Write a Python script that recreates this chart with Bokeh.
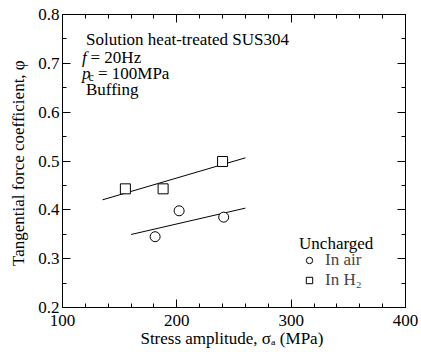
from bokeh.plotting import figure
from bokeh.models import (Range1d, FixedTicker, LinearAxis, Label, Legend, LegendItem)
from bokeh.embed import file_html
from bokeh.resources import INLINE

# ---- data ----
air_x = [181, 202, 241]
air_y = [0.345, 0.398, 0.385]
h2_x = [155, 188, 240]
h2_y = [0.443, 0.443, 0.499]
fit_air_x = [160, 260]
fit_air_y = [0.3495, 0.4035]
fit_h2_x = [135, 260]
fit_h2_y = [0.4205, 0.5065]
x_ticks = [100, 200, 300, 400]
x_minor = [100, 120, 140, 160, 180, 200, 220, 240, 260, 280, 300, 320, 340, 360, 380, 400]
y_ticks = [0.2, 0.3, 0.4, 0.5, 0.6, 0.7, 0.8]
y_minor = [0.2, 0.25, 0.3, 0.35, 0.4, 0.45, 0.5, 0.55, 0.6, 0.65, 0.7, 0.75, 0.8]

FONT = "'Liberation Serif', 'Times New Roman', serif"
FS = "17px"

p = figure(width=421, height=352, output_backend="svg", toolbar_location=None,
           x_range=Range1d(100, 400), y_range=Range1d(0.2, 0.8),
           min_border_left=62, min_border_right=16, min_border_top=14, min_border_bottom=45,
           x_axis_label="Stress amplitude,  σₐ (MPa)",
           y_axis_label="Tangential force coefficient,  φ")
p.grid.visible = False
p.outline_line_color = "black"
p.background_fill_color = "white"
p.border_fill_color = "white"

xt = FixedTicker(ticks=x_ticks, minor_ticks=x_minor)
yt = FixedTicker(ticks=y_ticks, minor_ticks=y_minor)


def style_axis(ax, labels=True):
    ax.axis_line_color = "black"
    ax.major_tick_line_color = "black"
    ax.minor_tick_line_color = "black"
    ax.major_tick_in = 8
    ax.major_tick_out = 0
    ax.minor_tick_in = 4
    ax.minor_tick_out = 0
    ax.major_label_text_font = FONT
    ax.major_label_text_color = "black"
    ax.axis_label_text_font = FONT
    ax.axis_label_text_font_style = "normal"
    ax.axis_label_text_color = "black"
    ax.axis_label_text_font_size = FS
    if labels:
        ax.major_label_text_font_size = FS
    else:
        ax.major_label_text_font_size = "1px"
        ax.major_label_text_alpha = 0
        ax.major_label_standoff = 0


p.xaxis.ticker = xt
p.yaxis.ticker = yt
for ax in p.xaxis + p.yaxis:
    style_axis(ax)
p.xaxis.major_label_standoff = 7
p.xaxis.axis_label_standoff = 0
p.yaxis.major_label_standoff = 3
p.yaxis.axis_label_standoff = 7

top = LinearAxis(ticker=FixedTicker(ticks=x_ticks, minor_ticks=x_minor))
right = LinearAxis(ticker=FixedTicker(ticks=y_ticks, minor_ticks=y_minor))
style_axis(top, labels=False)
style_axis(right, labels=False)
p.add_layout(top, "above")
p.add_layout(right, "right")

# fit lines
p.line(fit_h2_x, fit_h2_y, line_color="black", line_width=1)
p.line(fit_air_x, fit_air_y, line_color="black", line_width=1)

# points
r_air = p.scatter(air_x, air_y, marker="circle", size=10, fill_color="white",
                  line_color="black", line_width=1)
r_h2 = p.scatter(h2_x, h2_y, marker="square", size=10, fill_color="white",
                 line_color="black", line_width=1)


def lab(x, y, t, size=FS, style="normal"):
    p.add_layout(Label(x=x, y=y, text=t, text_font=FONT, text_font_size=size,
                       text_font_style=style, text_color="black",
                       text_baseline="alphabetic", text_align="left"))


lab(120.55, 0.7498, "Solution heat-treated SUS304")
lab(117.1, 0.7129, "f", style="italic")
lab(124.5, 0.7129, "= 20Hz")
lab(117.1, 0.6802, "p", style="italic")
lab(122.7, 0.6730, "c", size="12px")
lab(131.0, 0.6802, "= 100MPa")
lab(120.55, 0.6474, "Buffing")
lab(306.9, 0.3314, "Uncharged")

legend = Legend(items=[LegendItem(label="In air", renderers=[r_air]),
                       LegendItem(label="In H₂", renderers=[r_h2])],
                location=(236, 17),
                label_text_font=FONT, label_text_font_size=FS,
                glyph_width=22, glyph_height=16, label_height=16, label_standoff=5,
                spacing=0, padding=0, margin=0,
                border_line_color=None, background_fill_alpha=0)
p.add_layout(legend, "center")

open("out.html", "w").write(file_html(p, INLINE))
